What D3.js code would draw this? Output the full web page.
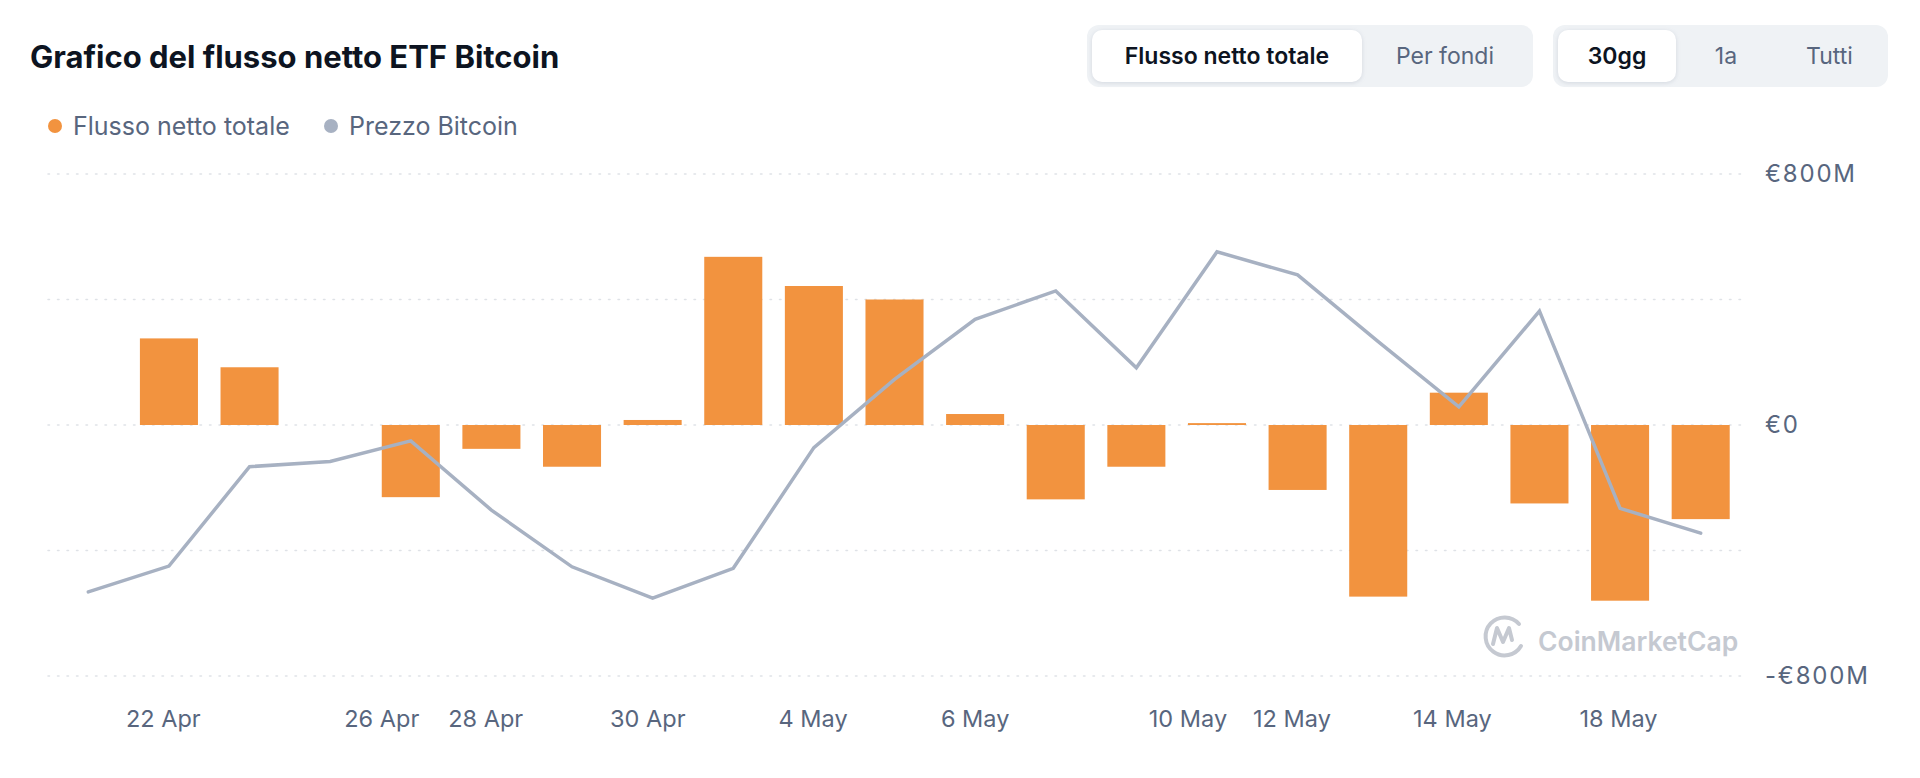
<!DOCTYPE html>
<html>
<head>
<meta charset="utf-8">
<script src="https://cdn.jsdelivr.net/npm/d3@7"></script>
<style>
  body { margin: 0; background: #fff; }
  text { font-family: Inter, "Noto Sans", sans-serif; }
</style>
</head>
<body>
<script>
// basic settings
const width = 1920;
const height = 778;
const marginTop = 174;
const marginBottom = 102;
const marginLeft = 48;
const marginRight = 179;

const barColor = '#f2933f';
const lineColor = '#a7b1c2';
const textGray = '#58667e';

// data
const days = ['21 Apr', '22 Apr', '23 Apr', '24 Apr', '25 Apr', '28 Apr', '29 Apr',
  '30 Apr', '1 May', '2 May', '5 May', '6 May', '7 May', '8 May', '9 May',
  '12 May', '13 May', '14 May', '15 May', '16 May', '19 May'];
// net flow, million EUR
const netFlow = [null, 276, 184, null, -230, -76, -133, 16, 536, 443, 400, 35,
  -237, -133, 6, -207, -547, 103, -250, -560, -300];
// bitcoin price, EUR
const btcPrice = [79350, 80380, 84340, 84550, 85370, 82610, 80350, 79100, 80290,
  85100, 87820, 90210, 91340, 88280, 92900, 91980, 89320, 86720, 90540, 82680, 81690];

const flowTicks = [-800, -400, 0, 400, 800];
const flowTickLabels = ['-€800M', '', '€0', '', '€800M'];
const dateLabels = ['22 Apr', '26 Apr', '28 Apr', '30 Apr', '4 May', '6 May',
  '10 May', '12 May', '14 May', '18 May'];
const dateLabelAt = [0.93, 3.64, 4.93, 6.94, 8.99, 11.0, 13.64, 14.93, 16.92, 18.98];

const legendItems = ['Flusso netto totale', 'Prezzo Bitcoin'];
const legendColors = [barColor, lineColor];

const svg = d3.select('body')
  .append('svg')
  .attr('width', width)
  .attr('height', height);

const x = d3.scaleBand()
  .domain(days)
  .range([marginLeft, width - marginRight])
  .paddingInner(0.28)
  .paddingOuter(0.14);

const xi = d3.scaleLinear()
  .domain([0, days.length - 1])
  .range([x(days[0]) + x.bandwidth() / 2, x(days[days.length - 1]) + x.bandwidth() / 2]);

const y = d3.scaleLinear()
  .domain([-800, 800])
  .range([height - marginBottom, marginTop]);

const yPrice = d3.scaleLinear()
  .domain([76000, 96000])
  .range([height - marginBottom, marginTop]);

// title
svg.append('text')
  .attr('x', 30)
  .attr('y', 68)
  .attr('font-size', 31)
  .attr('font-weight', 700)
  .attr('fill', '#0d1421')
  .text('Grafico del flusso netto ETF Bitcoin');

// legend
const legend = svg.append('g');
const legendX = [55, 331];
legend.selectAll('circle')
  .data(legendItems)
  .enter().append('circle')
  .attr('cx', (d, i) => legendX[i])
  .attr('cy', 126)
  .attr('r', 7)
  .attr('fill', (d, i) => legendColors[i]);
legend.selectAll('text')
  .data(legendItems)
  .enter().append('text')
  .attr('x', (d, i) => legendX[i] + 18)
  .attr('y', 126)
  .attr('dy', '0.35em')
  .attr('font-size', 25)
  .attr('fill', textGray)
  .text(d => d);

// toggle buttons
renderToggle(1087, 446, [['Flusso netto totale', 270], ['Per fondi', 166]]);
renderToggle(1553, 335, [['30gg', 118], ['1a', 100], ['Tutti', 107]]);

function renderToggle(x0, w, items) {
  const g = svg.append('g');
  g.append('rect')
    .attr('x', x0).attr('y', 25)
    .attr('width', w).attr('height', 62)
    .attr('rx', 12)
    .attr('fill', '#eff2f5');
  let cx = x0 + 5;
  items.forEach((it, i) => {
    if (i === 0) {
      g.append('rect')
        .attr('x', cx).attr('y', 30)
        .attr('width', it[1]).attr('height', 52)
        .attr('rx', 10)
        .attr('fill', '#fff')
        .style('filter', 'drop-shadow(0 1px 2px rgba(88,102,126,0.18))');
    }
    g.append('text')
      .attr('x', cx + it[1] / 2)
      .attr('y', 56)
      .attr('dy', '0.35em')
      .attr('text-anchor', 'middle')
      .attr('font-size', 23)
      .attr('font-weight', i === 0 ? 600 : 400)
      .attr('fill', i === 0 ? '#0d1421' : textGray)
      .text(it[0]);
    cx += it[1];
  });
}

// grid + y labels
const grid = svg.append('g');
grid.selectAll('line')
  .data(flowTicks)
  .enter().append('line')
  .attr('x1', marginLeft)
  .attr('x2', width - marginRight)
  .attr('y1', d => y(d))
  .attr('y2', d => y(d))
  .attr('stroke', '#dfe2e7')
  .attr('stroke-width', 1.5)
  .attr('stroke-dasharray', '1.5 8')
  .attr('stroke-linecap', 'round');
grid.selectAll('text')
  .data(flowTicks)
  .enter().append('text')
  .attr('x', 1765)
  .attr('y', d => y(d))
  .attr('dy', '0.35em')
  .attr('font-size', 24)
  .attr('letter-spacing', 1.8)
  .attr('fill', textGray)
  .text((d, i) => flowTickLabels[i]);

// watermark
const wm = svg.append('g').attr('fill', 'none').attr('stroke', '#c5c9d1');
wm.append('path')
  .attr('d', 'M1519,624 A19,19 0 1 0 1521,646')
  .attr('stroke-width', 4)
  .attr('stroke-linecap', 'round');
wm.append('path')
  .attr('d', 'M1493,644 L1497,628 L1503,642 L1509,628 L1512,640')
  .attr('stroke-width', 4)
  .attr('stroke-linecap', 'round')
  .attr('stroke-linejoin', 'round');
svg.append('text')
  .attr('x', 1538)
  .attr('y', 651)
  .attr('font-size', 26.5)
  .attr('font-weight', 600)
  .attr('fill', '#c5c9d1')
  .text('CoinMarketCap');

// bars
const bars = svg.append('g');
bars.selectAll('rect')
  .data(netFlow.map((v, i) => ({day: days[i], v})).filter(d => d.v !== null))
  .enter().append('rect')
  .attr('x', d => x(d.day))
  .attr('width', x.bandwidth())
  .attr('y', d => y(Math.max(0, d.v)))
  .attr('height', d => Math.abs(y(d.v) - y(0)))
  .attr('fill', barColor);

// price line
const line = d3.line()
  .x((d, i) => xi(i))
  .y(d => yPrice(d));
svg.append('path')
  .datum(btcPrice)
  .attr('d', line)
  .attr('fill', 'none')
  .attr('stroke', lineColor)
  .attr('stroke-width', 3.5)
  .attr('stroke-linecap', 'round');

// x labels
svg.append('g')
  .selectAll('text')
  .data(dateLabels)
  .enter().append('text')
  .attr('x', (d, i) => xi(dateLabelAt[i]))
  .attr('y', 719)
  .attr('dy', '0.35em')
  .attr('text-anchor', 'middle')
  .attr('font-size', 23.5)
  .attr('fill', textGray)
  .text(d => d);
</script>
</body>
</html>
